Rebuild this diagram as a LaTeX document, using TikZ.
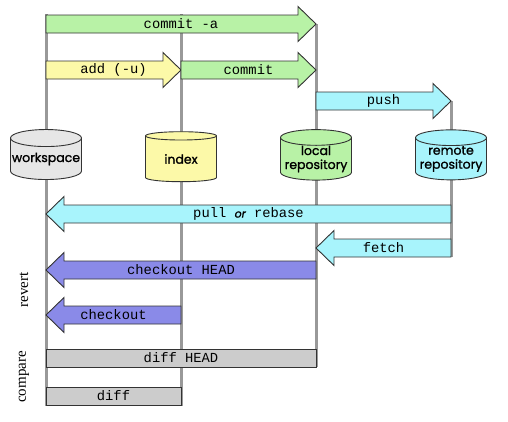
\documentclass[tikz,border=0pt]{standalone}
\usepackage{fontspec}
\setmainfont{Liberation Serif}
\setsansfont{Poppins}
\setmonofont{Liberation Mono}
\newfontfamily\storefont[FakeBold=1.3]{Poppins}
\usetikzlibrary{shapes.geometric}

\definecolor{lanegray}{HTML}{999999}
\definecolor{wsgray}{HTML}{E6E6E6}
\definecolor{idxyellow}{HTML}{FCF9A8}
\definecolor{locgreen}{HTML}{B8F2A6}
\definecolor{remcyan}{HTML}{A8F4FC}
\definecolor{copurple}{HTML}{8A8AE8}
\definecolor{diffgray}{HTML}{CCCCCC}

% fat arrow: name, fill, from x, tip x, y, text
\newcommand{\flow}[6]{%
  \pgfmathsetmacro\hb{#4-18*sign(#4-#3)}
  \filldraw[flowline, fill=#2] (#3,#5-9) -- (\hb,#5-9) -- (\hb,#5-17.5) -- (#4,#5)
    -- (\hb,#5+17.5) -- (\hb,#5+9) -- (#3,#5+9) -- cycle;
  \node[cmd] (#1) at ({(#3+#4)/2},#5) {#6};
}

\begin{document}
\begin{tikzpicture}[x=1pt, y=-1pt]
  \tikzstyle{lane} = [draw=lanegray, line width=3pt]
  \tikzstyle{flowline} = [draw=black!80, line width=0.9pt]
  \tikzstyle{store} = [draw=black!80, line width=0.9pt, cylinder, shape border rotate=90, aspect=0.25, minimum width=71pt, minimum height=50pt, inner sep=0pt, align=center, font=\storefont\fontsize{12.5}{14}\selectfont]
  \tikzstyle{cmd} = [inner sep=0pt, font=\ttfamily\fontsize{13.8}{15}\selectfont]
  \tikzstyle{bar} = [flowline, fill=diffgray, minimum height=18pt, cmd]
  \tikzstyle{side} = [rotate=90, font=\fontsize{15}{16}\selectfont]
  \useasboundingbox (0,0) rectangle (508,421);

  % lanes
  \coordinate (wsTop) at (46,14);   \coordinate (wsBot) at (46,406);
  \coordinate (idxTop) at (181,14); \coordinate (idxBot) at (181,406);
  \coordinate (locTop) at (316,24); \coordinate (locBot) at (316,367);
  \coordinate (remTop) at (451,101);\coordinate (remBot) at (451,257);
  \foreach \n in {ws,idx,loc,rem} {
    \draw [lane] (\n Top) -- (\n Bot);
  }

  % stores
  \node [store, fill=wsgray] (ws) at (46,159) {workspace};
  \node [store, fill=idxyellow] (idx) at (181,159) {index};
  \node [store, fill=locgreen] (loc) at (316,159) {local\\repository};
  \node [store, fill=remcyan] (rem) at (451,159) {remote\\repository};

  % commands
  \flow{commita}{locgreen}{46}{316}{24}{commit -a}
  \flow{add}{idxyellow}{46}{181}{70}{add (-u)}
  \flow{commit}{locgreen}{181}{316}{70}{commit}
  \flow{push}{remcyan}{316}{451}{101}{push}
  \flow{pull}{remcyan}{451}{46}{214}{pull {\storefont\itshape\fontsize{11}{12}\selectfont or} rebase}
  \flow{fetch}{remcyan}{451}{316}{248}{fetch}
  \flow{cohead}{copurple}{316}{46}{270}{checkout HEAD}
  \flow{co}{copurple}{181}{46}{315}{checkout}

  \node [bar, minimum width=270pt] (diffhead) at (181,358) {diff HEAD};
  \node [bar, minimum width=135pt] (diff) at (113.5,396) {diff};

  \node [side] (revert) at (24,290) {revert};
  \node [side] (compare) at (24,377) {compare};
\end{tikzpicture}
\end{document}
